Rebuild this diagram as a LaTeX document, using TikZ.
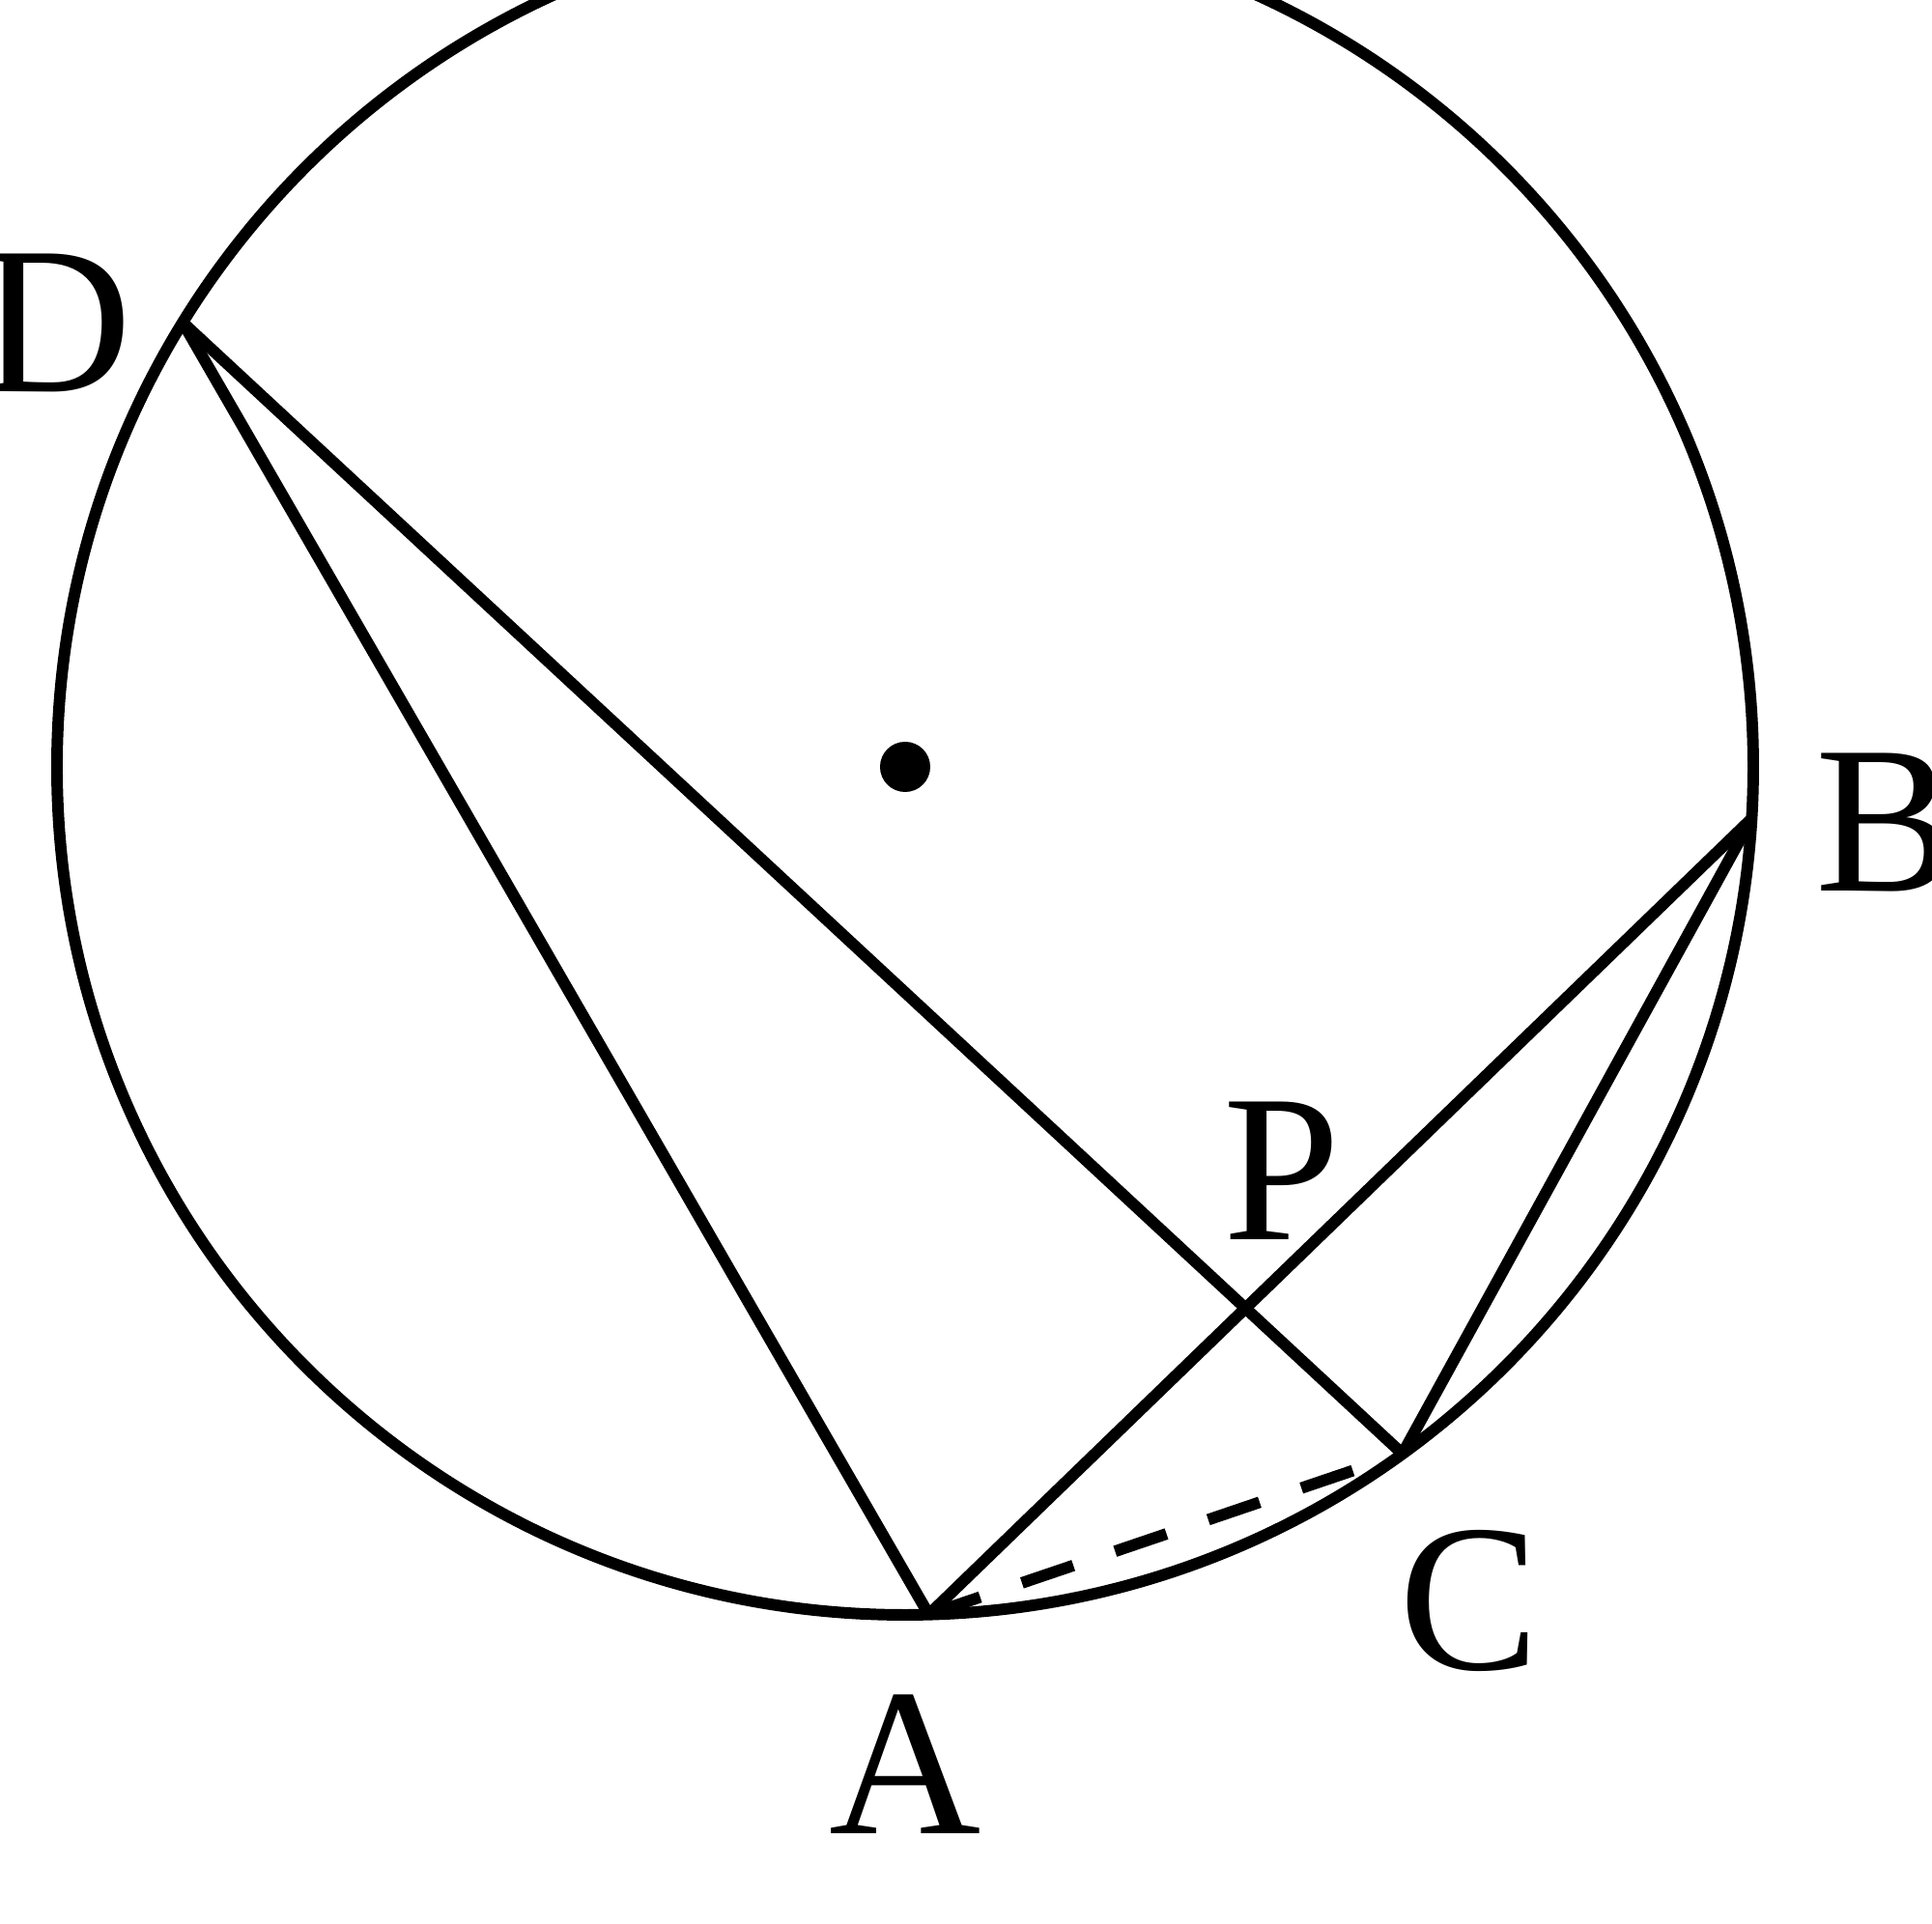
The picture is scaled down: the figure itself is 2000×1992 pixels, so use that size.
\documentclass[tikz,border=0pt]{standalone}
\usepackage{fontspec}
\setmainfont{Liberation Serif}
\usetikzlibrary{calc}

\begin{document}
\begin{tikzpicture}[x=0.005cm, y=0.005cm, line width=1.7pt,
    font=\fontsize{31}{36}\selectfont,
    lbl/.style={inner sep=0pt}]
    \useasboundingbox (-937,-1198) rectangle (1063,794);

    % Circle and its centre
    \coordinate (O) at (0,0);
    \draw (O) circle [radius=878];
    \fill (O) circle [radius=26];

    % Points on the circle
    \coordinate (D) at (148.4:878);
    \coordinate (B) at (-3.5:878);
    \coordinate (A) at (-88.4:878);
    \coordinate (C) at (-54.1:878);
    \coordinate (P) at (intersection of D--C and A--B);

    % Chords
    \draw (D) -- (A);
    \draw (D) -- (C);
    \draw (A) -- (B);
    \draw (B) -- (C);
    \draw[dash pattern=on 8pt off 6.5pt] (A) -- (C);

    % Labels
    \node[lbl] (lD) at (-879,460) {D};
    \node[lbl] (lB) at (1015,-58) {B};
    \node[lbl] (lA) at (0,-1033) {A};
    \node[lbl] (lC) at (584,-864) {C};
    \node[lbl] (lP) at (390,-418) {P};
\end{tikzpicture}
\end{document}
